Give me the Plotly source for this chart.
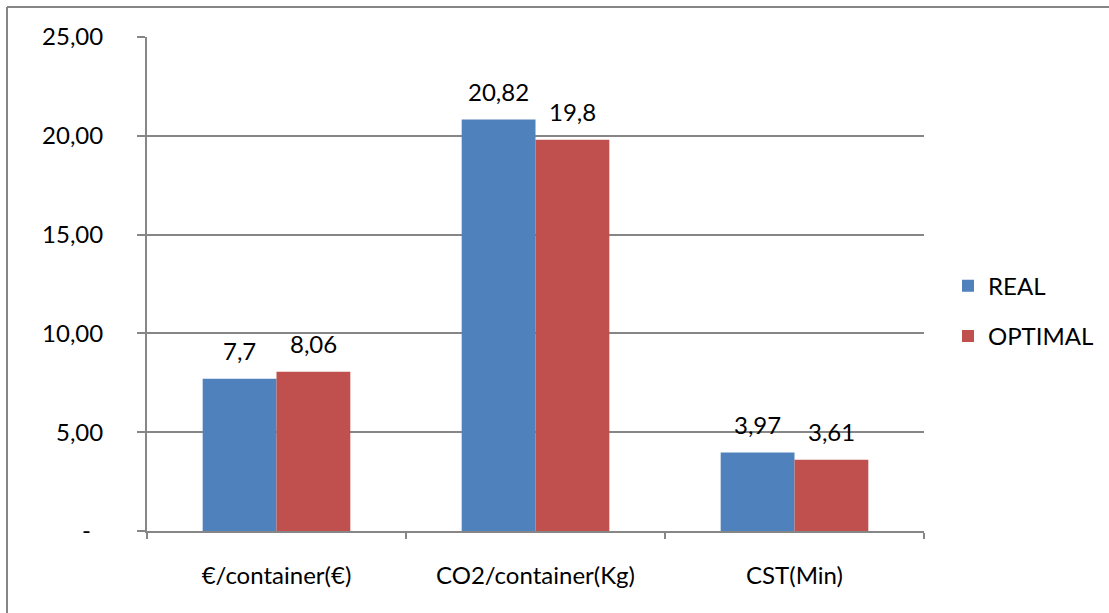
import plotly.graph_objects as go

# Metrics compared between the real operation and the optimal plan
categories = ["€/container(€)", "CO2/container(Kg)", "CST(Min)"]
real_values = [7.7, 20.82, 3.97]
optimal_values = [8.06, 19.8, 3.61]

y_tick_values = [0, 5, 10, 15, 20, 25]
y_tick_labels = ["-\u00a0\u00a0", "5,00", "10,00", "15,00", "20,00", "25,00"]

BLUE = "#4F81BD"
RED = "#C0504D"
GRID = "#868686"
FONT = "Lato, Calibri, sans-serif"
FS = 24

W, H = 1109, 613
M_L, M_R, M_T, M_B = 147, 185, 37, 82
BARGAP = 0.43


def label(v):
    # decimal comma
    return f"{v:g}".replace(".", ",")


fig = go.Figure()
series = [("REAL", real_values, BLUE), ("OPTIMAL", optimal_values, RED)]
for name, vals, col in series:
    fig.add_trace(go.Bar(
        name=name,
        x=categories,
        y=vals,
        marker=dict(color=col, line=dict(width=0)),
        legendgroup=name,
    ))

pw = W - M_L - M_R
ph = H - M_T - M_B

# value labels above each bar, shifted to the centre of its bar in the group
bar_px = (pw / len(categories)) * (1 - BARGAP) / len(series)
for i, (name, vals, col) in enumerate(series):
    shift = (i - (len(series) - 1) / 2) * bar_px
    for cat, v in zip(categories, vals):
        fig.add_annotation(
            x=cat, y=v, xref="x", yref="y",
            text=label(v), showarrow=False,
            xshift=shift, yshift=12, yanchor="bottom",
            font=dict(family=FONT, size=FS, color="#000000"),
        )


def px_x(p):
    return (p - M_L) / pw


def px_y(p):
    return (H - M_B - p) / ph


# outer chart frame (left and top edges visible)
frame = dict(type="line", xref="paper", yref="paper",
             line=dict(color=GRID, width=2))
fig.add_shape(**frame, x0=px_x(7), x1=px_x(7), y0=px_y(7), y1=px_y(H + 5))
fig.add_shape(**frame, x0=px_x(7), x1=px_x(W + 5), y0=px_y(7), y1=px_y(7))

fig.update_layout(
    width=W, height=H,
    margin=dict(l=M_L, r=M_R, t=M_T, b=M_B, autoexpand=False),
    paper_bgcolor="white",
    plot_bgcolor="white",
    font=dict(family=FONT, size=FS, color="#000000"),
    barmode="group",
    bargap=BARGAP,
    bargroupgap=0,
    showlegend=True,
    legend=dict(
        x=px_x(948), xanchor="left",
        y=0.445, yanchor="middle",
        font=dict(family=FONT, size=FS, color="#000000"),
        tracegroupgap=16,
        bgcolor="rgba(0,0,0,0)",
    ),
    xaxis=dict(
        type="category",
        showline=True, linecolor=GRID, linewidth=2,
        ticks="outside", ticklen=6, tickcolor=GRID, tickwidth=2,
        tickson="boundaries",
        showgrid=False,
        ticklabelstandoff=22,
        tickfont=dict(family=FONT, size=FS, color="#000000"),
    ),
    yaxis=dict(
        range=[0, 25],
        tickvals=y_tick_values,
        ticktext=y_tick_labels,
        showline=True, linecolor=GRID, linewidth=2,
        ticks="outside", ticklen=8, tickcolor=GRID, tickwidth=2,
        showgrid=True, gridcolor=GRID, gridwidth=1.5,
        zeroline=False,
        ticklabelstandoff=29,
        tickfont=dict(family=FONT, size=FS, color="#000000"),
    ),
)

fig.write_html("out.html")
